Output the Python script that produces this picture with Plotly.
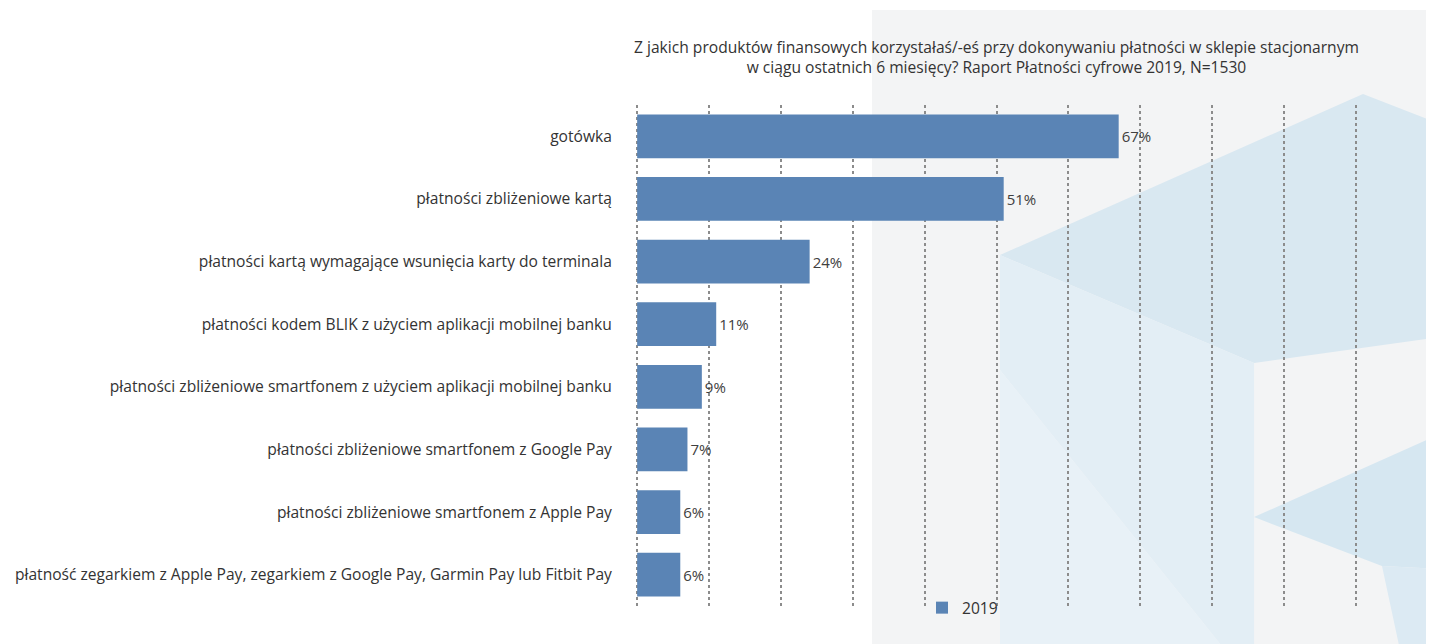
import plotly.graph_objects as go

categories = [
    "gotówka",
    "płatności zbliżeniowe kartą",
    "płatności kartą wymagające wsunięcia karty do terminala",
    "płatności kodem BLIK z użyciem aplikacji mobilnej banku",
    "płatności zbliżeniowe smartfonem z użyciem aplikacji mobilnej banku",
    "płatności zbliżeniowe smartfonem z Google Pay",
    "płatności zbliżeniowe smartfonem z Apple Pay",
    "płatność zegarkiem z Apple Pay, zegarkiem z Google Pay, Garmin Pay lub Fitbit Pay",
]
values_2019 = [67, 51, 24, 11, 9, 7, 6, 6]
series_name = "2019"
title_text = ("Z jakich produktów finansowych korzystałaś/-eś przy dokonywaniu płatności w sklepie stacjonarnym<br>"
              "w ciągu ostatnich 6 miesięcy? Raport Płatności cyfrowe 2019, N=1530")

OFF = 8  # page body margin
W, H = 1434 - OFF, 644 - OFF
# plot area in page coordinates
L, R, T, B = 635, 1358, 105, 606

def px(x):
    return (x - L) / (R - L)

def py(y):
    return (B - y) / (B - T)

def path(pts):
    return "M " + " L ".join(f"{px(x):.4f},{py(y):.4f}" for x, y in pts) + " Z"

FONT = "Open Sans"
FS = 15.6

fig = go.Figure()
fig.add_trace(go.Bar(
    y=categories, x=values_2019, orientation="h", name=series_name,
    marker=dict(color="#5a84b5", line=dict(width=0)),
    text=[f"{v}%" for v in values_2019], textposition="outside",
    textfont=dict(size=15, color="#404040", family=FONT),
    cliponaxis=False, width=0.7,
))

shapes = []
shapes.append(dict(type="path", xref="paper", yref="paper", layer="below",
                   path=path([(872, 10), (1440, 10), (1440, 650), (872, 650)]),
                   fillcolor="#f3f4f5", line=dict(width=0)))
blue_polys = [
    ([(1000, 255), (1363, 94), (1440, 124), (1440, 337), (1254, 363)], "#d9e8f1"),
    ([(1000, 255), (1254, 363), (1254, 650), (1225, 650), (1000, 370)], "#e3eef5"),
    ([(1000, 370), (1225, 650), (1000, 650)], "#e8f1f7"),
    ([(1254, 517), (1440, 434), (1440, 569), (1382, 566)], "#d6e7f1"),
    ([(1382, 566), (1440, 569), (1440, 650), (1400, 650)], "#dceaf3"),
]
for pts, col in blue_polys:
    shapes.append(dict(type="path", xref="paper", yref="paper", layer="below",
                       path=path(pts), fillcolor=col, line=dict(width=0)))

fig.update_layout(
    width=W, height=H,
    margin=dict(l=L - OFF, r=(1434 - R), t=T - OFF, b=(644 - B), autoexpand=False),
    paper_bgcolor="white", plot_bgcolor="rgba(0,0,0,0)",
    font=dict(family=FONT, size=FS, color="#333333"),
    title=dict(text=title_text, x=0.5, xref="paper", y=1 - (53 - OFF) / H, yanchor="middle",
               font=dict(size=FS, color="#333333", family=FONT)),
    xaxis=dict(range=[-0.3, 100.3], tickmode="linear", dtick=10, tick0=0, showticklabels=False,
               showgrid=True, gridcolor="#8c8c8c", gridwidth=1.6, griddash="dot",
               zeroline=False, showline=False, ticks=""),
    yaxis=dict(autorange="reversed", showgrid=False, zeroline=False, showline=False,
               ticks="outside", ticklen=19, tickcolor="rgba(0,0,0,0)",
               tickfont=dict(size=FS, color="#333333")),
    showlegend=True,
    legend=dict(orientation="h", x=px(922), y=py(591), xanchor="left", yanchor="top",
                bgcolor="rgba(0,0,0,0)", font=dict(size=FS, color="#333333")),
    shapes=shapes,
)

fig.write_html("out.html")
